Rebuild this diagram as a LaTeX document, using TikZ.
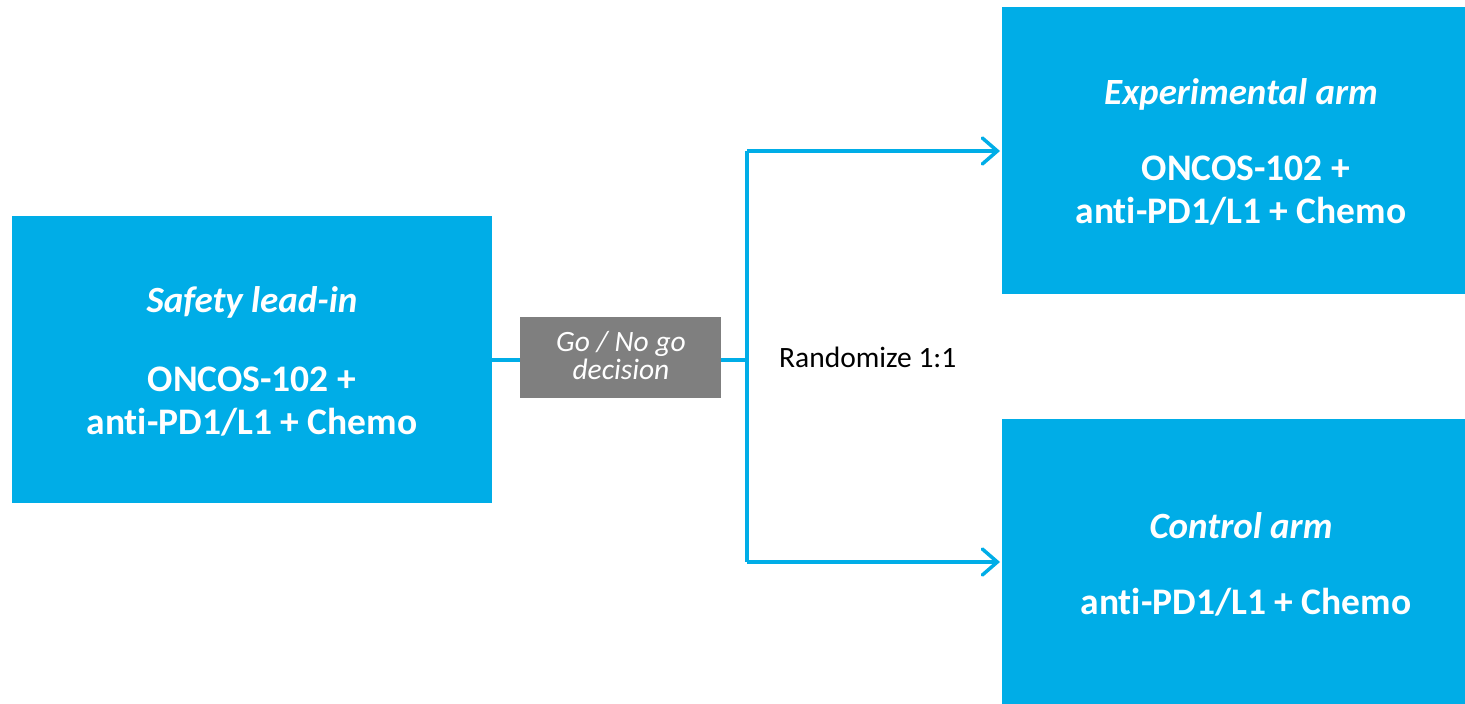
\documentclass[tikz,border=0pt]{standalone}
\usepackage{fontspec}
\setmainfont{Carlito}[Ligatures={NoCommon}]
\usetikzlibrary{arrows.meta}
\definecolor{cyanbox}{HTML}{00ADE7}
\definecolor{graybox}{HTML}{7F7F7F}
\tikzset{
  box/.style={fill=cyanbox, draw=none},
  conn/.style={draw=cyanbox, line width=3.5pt},
  arr/.style={conn, -{Straight Barb[length=15pt,width=26pt,line width=3.5pt, line cap=round]}},
  ttl/.style={anchor=base, text=white, font=\fontsize{37}{44}\selectfont\bfseries\itshape},
  body/.style={anchor=base, text=white, font=\fontsize{37.5}{45}\selectfont\bfseries},
  small/.style={anchor=base, text=white, font=\fontsize{29.5}{34}\selectfont\itshape},
}
\begin{document}
\begin{tikzpicture}[x=1pt,y=-1pt]
\useasboundingbox (0,0) rectangle (1465,704);
% boxes
\path[box] (12,216) rectangle (492,503);
\path[box] (1002,7) rectangle (1465,294);
\path[box] (1002,419) rectangle (1465,704);
\coordinate (leadE) at (492,360);
% gray decision box
\node[fill=graybox, minimum width=201pt, minimum height=81pt, inner sep=0, anchor=north west] (go) at (520,317) {};
\node[small] (go1) at (621,351) {Go / No go};
\node[small] (go2) at (621,379) {decision};
\coordinate (split) at (747,360);
\coordinate (top) at (747,151);
\coordinate (bot) at (747,562);
\coordinate (expW) at (1000,151);
\coordinate (ctlW) at (1000,562);
% connectors
\draw[conn] (leadE) -- (go.west |- leadE);
\draw[conn] (go.east |- split) -- (split);
\draw[conn] (top) -- (bot);
\draw[arr] (top) -- (expW);
\draw[arr] (bot) -- (ctlW);
% texts
\node[ttl] (t1) at (252,312) {Safety lead-in};
\node[body] (b1) at (252,391) {ONCOS-102 +};
\node[body] (b2) at (252,434) {anti-PD1/L1 + Chemo};
\node[ttl] (t2) at (1241,104) {Experimental arm};
\node[body] (b3) at (1246,180) {ONCOS-102 +};
\node[body] (b4) at (1241,223) {anti-PD1/L1 + Chemo};
\node[ttl] (t3) at (1241,538) {Control arm};
\node[body] (b5) at (1246,614) {anti-PD1/L1 + Chemo};
\node[anchor=base west, inner sep=0, font=\fontsize{29.5}{34}\selectfont] (rand) at (779,367) {Randomize 1:1};
\end{tikzpicture}
\end{document}
